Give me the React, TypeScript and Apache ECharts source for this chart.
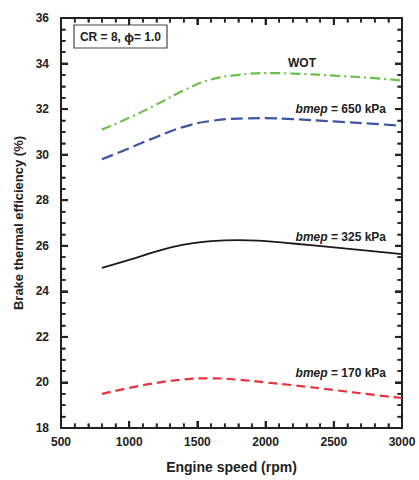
import React, { useEffect, useRef } from "react";
import * as echarts from "echarts";

const speeds = [800, 1000, 1200, 1400, 1600, 1800, 2000, 2200, 2500, 2800, 3000];
const wot = [31.1, 31.62, 32.2, 32.82, 33.3, 33.5, 33.58, 33.56, 33.47, 33.36, 33.25];
const bmep650 = [29.8, 30.28, 30.78, 31.22, 31.48, 31.58, 31.6, 31.56, 31.46, 31.35, 31.27];
const bmep325 = [25.03, 25.38, 25.75, 26.05, 26.2, 26.25, 26.2, 26.1, 25.93, 25.75, 25.63];
const bmep170 = [19.5, 19.76, 19.98, 20.13, 20.18, 20.12, 20.0, 19.88, 19.67, 19.45, 19.32];

const X_MIN = 500, X_MAX = 3000, X_STEP = 500, X_MINOR = 100;
const Y_MIN = 18, Y_MAX = 36, Y_STEP = 2, Y_MINOR = 0.5;

const toPairs = (ys: number[]) => speeds.map((s, i) => [s, ys[i]]);

export default function App() {
  const ref = useRef<HTMLDivElement>(null);
  useEffect(() => {
    if (!ref.current) return;
    const chart = echarts.init(ref.current, null, { renderer: "svg" });
    const font = "Liberation Sans, Arial, sans-serif";
    const axisLine = { show: true, onZero: false, lineStyle: { color: "#222", width: 2 } };
    const axisTick = { show: true, inside: true, length: 7, lineStyle: { color: "#222", width: 2 } };
    const minorTick = (n: number) => ({ show: true, splitNumber: n, length: 4.5, lineStyle: { color: "#222", width: 1.5 } });
    const seriesCommon = { type: "line", smooth: 0.5, showSymbol: false, symbol: "none", z: 3 };
    const staticGraphics: any[] = [
      {
        type: "rect",
        shape: { x: 74, y: 25, width: 93, height: 23 },
        style: { fill: "#fff", stroke: "#444", lineWidth: 1.2 },
      },
      {
        type: "text",
        x: 120.5,
        y: 37,
        style: {
          text: "{a|CR = 8, }{b|ϕ}{a|= 1.0}",
          align: "center",
          verticalAlign: "middle",
          rich: {
            a: { fontFamily: font, fontWeight: "bold", fontSize: 12, fill: "#222" },
            b: { fontFamily: font, fontWeight: "bold", fontSize: 13, fill: "#222" },
          },
        },
      },
      {
        type: "text",
        x: 302,
        y: 63,
        style: { text: "WOT", align: "center", verticalAlign: "middle", font: `bold 12px ${font}`, fill: "#222" },
      },
      ...[
        { y: 109, t: "650" },
        { y: 237, t: "325" },
        { y: 373, t: "170" },
      ].map((l) => ({
        type: "text",
        x: 386,
        y: l.y,
        style: {
          text: `{i|bmep}{a| = ${l.t} kPa}`,
          align: "right",
          verticalAlign: "middle",
          rich: {
            i: { fontFamily: font, fontWeight: "bold", fontStyle: "italic", fontSize: 12, fill: "#222" },
            a: { fontFamily: font, fontWeight: "bold", fontSize: 12, fill: "#222" },
          },
        },
      })),
    ];
    chart.setOption({
      animation: false,
      backgroundColor: "#fff",
      grid: { left: 61, right: 17, top: 18, bottom: 52 },
      xAxis: [
        {
          type: "value",
          min: X_MIN,
          max: X_MAX,
          interval: X_STEP,
          axisLine,
          axisTick,
          minorTick: minorTick(5),
          splitLine: { show: false },
          axisLabel: {
            color: "#222",
            fontFamily: font,
            fontWeight: "bold",
            fontSize: 12,
            margin: 8,
            formatter: (v: number) => String(v),
          },
          name: "Engine speed (rpm)",
          nameLocation: "middle",
          nameGap: 32,
          nameTextStyle: { color: "#222", fontFamily: font, fontWeight: "bold", fontSize: 14 },
        },
        {
          type: "value",
          position: "top",
          min: X_MIN,
          max: X_MAX,
          interval: X_STEP,
          axisLine,
          axisTick,
          minorTick: minorTick(5),
          splitLine: { show: false },
          axisLabel: { show: false },
        },
      ],
      yAxis: [
        {
          type: "value",
          min: Y_MIN,
          max: Y_MAX,
          interval: Y_STEP,
          axisLine,
          axisTick,
          minorTick: minorTick(4),
          splitLine: { show: false },
          axisLabel: { color: "#222", fontFamily: font, fontWeight: "bold", fontSize: 12, margin: 12 },
          name: "Brake thermal efficiency (%)",
          nameLocation: "middle",
          nameGap: 36,
          nameTextStyle: { color: "#222", fontFamily: font, fontWeight: "bold", fontSize: 13 },
        },
        {
          type: "value",
          position: "right",
          min: Y_MIN,
          max: Y_MAX,
          interval: Y_STEP,
          axisLine,
          axisTick,
          minorTick: minorTick(4),
          splitLine: { show: false },
          axisLabel: { show: false },
        },
      ],
      series: [
        { ...seriesCommon, data: toPairs(wot), lineStyle: { color: "#6cc04a", width: 2.2, type: [10, 4, 2, 4] } },
        { ...seriesCommon, data: toPairs(bmep650), lineStyle: { color: "#3c54a8", width: 2.2, type: [12, 5] } },
        { ...seriesCommon, data: toPairs(bmep325), lineStyle: { color: "#1a1a1a", width: 1.8 } },
        { ...seriesCommon, data: toPairs(bmep170), lineStyle: { color: "#e8323c", width: 2.2, type: [9, 5] } },
      ],
      graphic: staticGraphics,
    });

    // tick marks on all four sides, positioned through the chart's own scales
    const ticks: any[] = [];
    const px = (x: number, y: number) => chart.convertToPixel({ gridIndex: 0 }, [x, y]) as number[];
    const tickStyle = (major: boolean) => ({ stroke: "#222", lineWidth: major ? 2 : 1.5 });
    const nx = Math.round((X_MAX - X_MIN) / X_MINOR);
    for (let i = 0; i <= nx; i++) {
      const v = X_MIN + i * X_MINOR;
      const major = i % Math.round(X_STEP / X_MINOR) === 0;
      const len = major ? 7 : 4.5;
      const b = px(v, Y_MIN);
      const t = px(v, Y_MAX);
      if (!b || !t) continue;
      ticks.push({ type: "line", z: 100, shape: { x1: b[0], y1: b[1], x2: b[0], y2: b[1] - len }, style: tickStyle(major) });
      ticks.push({ type: "line", z: 100, shape: { x1: t[0], y1: t[1], x2: t[0], y2: t[1] + len }, style: tickStyle(major) });
    }
    const ny = Math.round((Y_MAX - Y_MIN) / Y_MINOR);
    for (let i = 0; i <= ny; i++) {
      const v = Y_MIN + i * Y_MINOR;
      const major = i % Math.round(Y_STEP / Y_MINOR) === 0;
      const len = major ? 7 : 4.5;
      const l = px(X_MIN, v);
      const r = px(X_MAX, v);
      if (!l || !r) continue;
      ticks.push({ type: "line", z: 100, shape: { x1: l[0], y1: l[1], x2: l[0] + len, y2: l[1] }, style: tickStyle(major) });
      ticks.push({ type: "line", z: 100, shape: { x1: r[0], y1: r[1], x2: r[0] - len, y2: r[1] }, style: tickStyle(major) });
    }
    chart.setOption({ graphic: [...staticGraphics, ...ticks] });
    return () => chart.dispose();
  }, []);
  return <div ref={ref} style={{ position: "absolute", left: 0, top: 0, width: 419, height: 480 }} />;
}
